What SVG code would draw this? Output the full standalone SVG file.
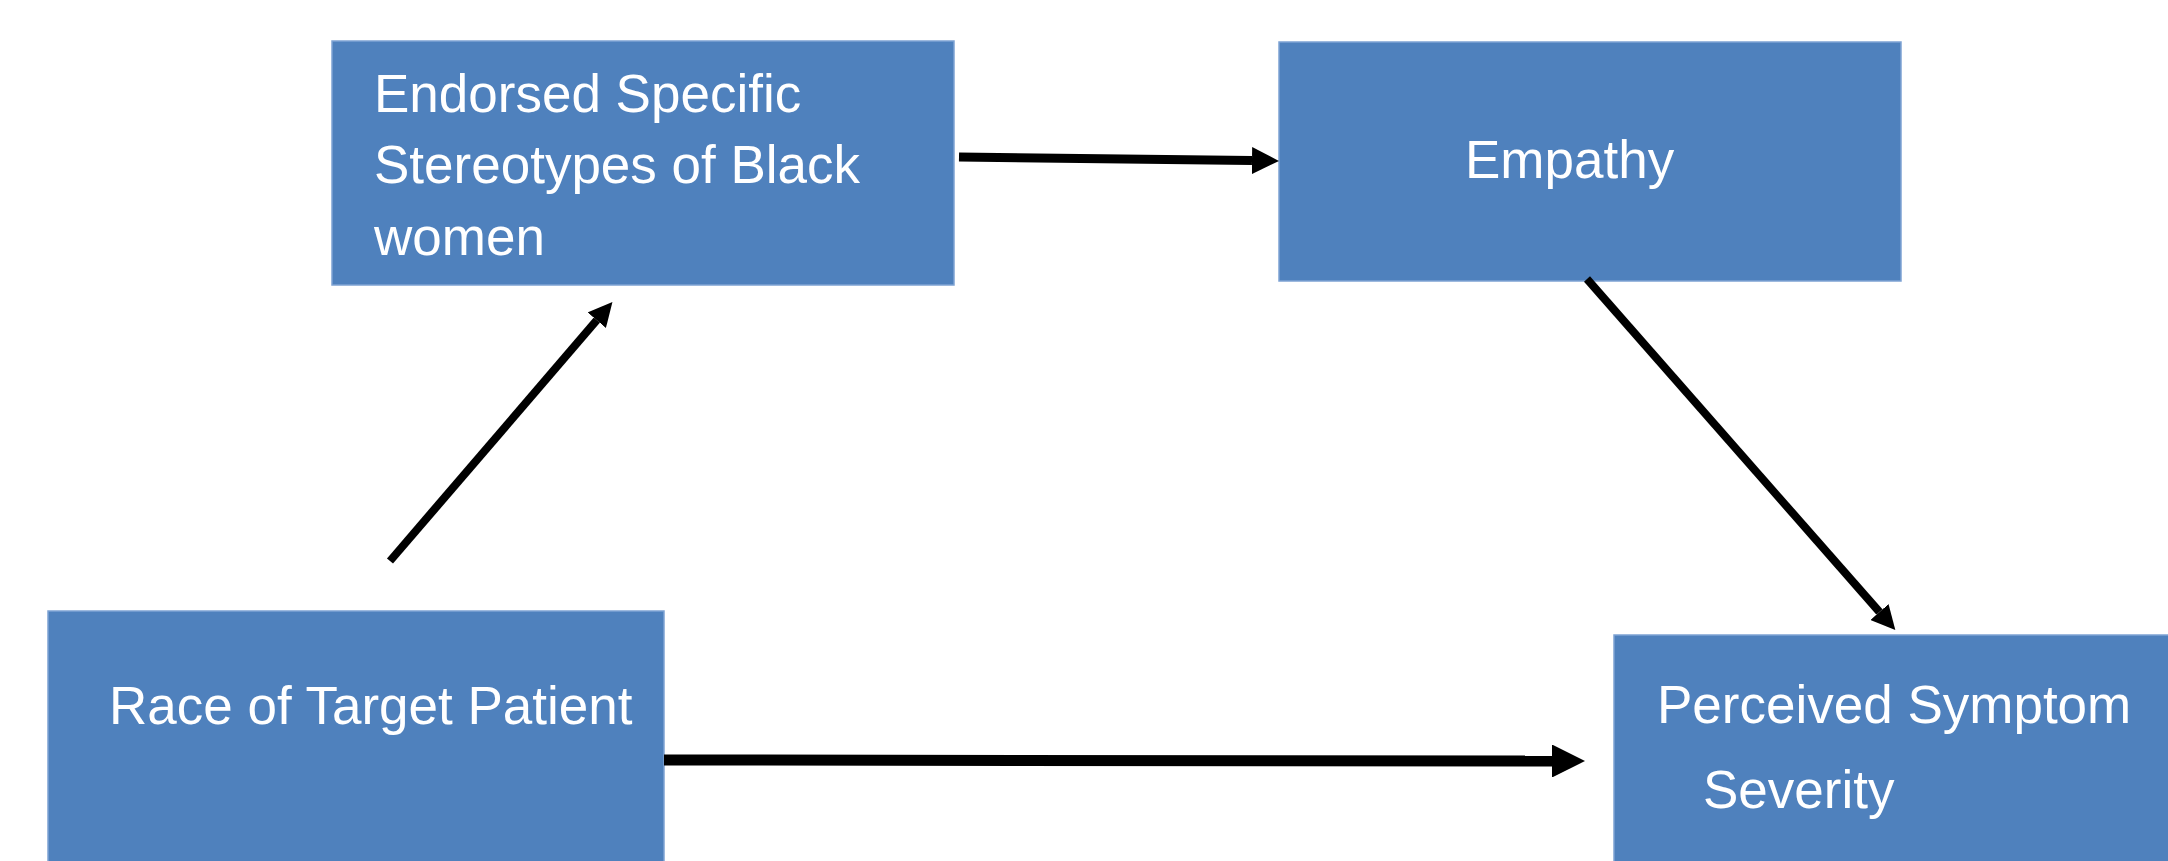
<svg xmlns="http://www.w3.org/2000/svg" width="2168" height="861" viewBox="0 0 2168 861">
  <style>
    .box { fill: #4F81BD; stroke: #7EA3D3; stroke-width: 1.5; }
    .lbl { fill: #FFFFFF; font-family: "Liberation Sans", Arial, sans-serif; font-size: 53px; }
    .conn { stroke: #000000; fill: none; stroke-linecap: butt; marker-end: url(#arrow); }
  </style>
  <defs>
    <marker id="arrow" markerUnits="strokeWidth" markerWidth="3" markerHeight="3" refX="0" refY="1.5" orient="auto" viewBox="0 0 3 3">
      <path d="M0,0 L3,1.5 L0,3 Z" fill="#000000"/>
    </marker>
  </defs>
  <rect width="2168" height="861" fill="#FFFFFF"/>

  <g id="node-stereotypes">
    <rect class="box" x="332" y="41" width="622" height="244"/>
    <text class="lbl" x="374" y="112">Endorsed Specific</text>
    <text class="lbl" x="374" y="183">Stereotypes of Black</text>
    <text class="lbl" x="374" y="255">women</text>
  </g>

  <g id="node-empathy">
    <rect class="box" x="1279" y="42" width="622" height="239"/>
    <text class="lbl" x="1465" y="178">Empathy</text>
  </g>

  <g id="node-race">
    <rect class="box" x="48" y="611" width="616" height="252"/>
    <text class="lbl" x="109" y="724">Race of Target Patient</text>
  </g>

  <g id="node-severity">
    <rect class="box" x="1614" y="635" width="556" height="228"/>
    <text class="lbl" x="1657" y="723">Perceived Symptom</text>
    <text class="lbl" x="1703" y="808">Severity</text>
  </g>

  <g id="connectors">
    <line class="conn" x1="959" y1="157" x2="1252" y2="160.6" stroke-width="9"/>
    <line class="conn" x1="390" y1="561" x2="596.8" y2="320.2" stroke-width="8"/>
    <line class="conn" x1="1587" y1="279" x2="1879.5" y2="612" stroke-width="8"/>
    <line class="conn" x1="664" y1="760" x2="1552" y2="761" stroke-width="11"/>
  </g>
</svg>
